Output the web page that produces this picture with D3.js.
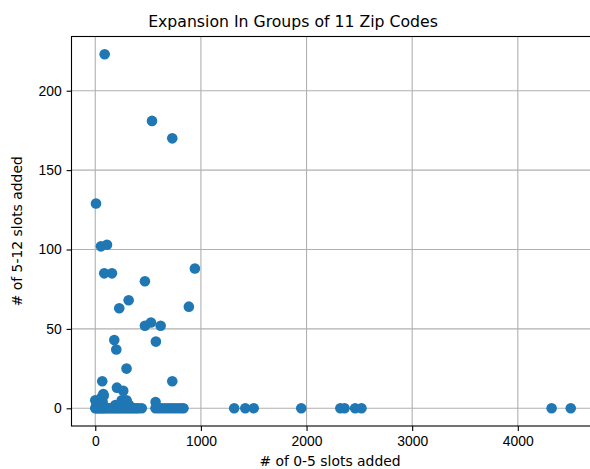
<!DOCTYPE html>
<html>
<head>
<meta charset="utf-8">
<script src="https://cdn.jsdelivr.net/npm/d3@7"></script>
<style>
  body { margin: 0; background: #fff; }
  svg { font-family: "DejaVu Sans", sans-serif; }
  .tick text { font-size: 13.9px; fill: #000; }
</style>
</head>
<body>
<svg width="590" height="469"></svg>
<script>
// slots added per group of zip codes
const slots05 = [
  89, 537, 729, 7, 54, 111, 943, 85, 158, 470, 316, 227, 886, 470, 527, 619,
  180, 574, 199, 296, 66, 729, 205, 265, 76, 571, 296,
  0, 10, 20, 40, 60, 70, 80, 250, 270, 300, 320, 290, 230, 190,
  0, 15, 30, 45, 60, 75, 90, 110, 130, 150, 170, 190, 210, 230, 250, 270,
  290, 310, 330, 350, 370, 390, 410, 440,
  570, 600, 630, 660, 690, 720, 750, 780, 810, 835,
  1315, 1420, 1500, 1950, 2320, 2360, 2460, 2520, 4320, 4501
];
const slots512 = [
  223, 181, 170, 129, 102, 103, 88, 85, 85, 80, 68, 63, 64, 52, 54, 52,
  43, 42, 37, 25, 17, 17, 13, 11, 9, 4, 5,
  5, 3, 2, 1, 7, 4, 8, 5, 3, 4, 2, 1, 2, 2,
  0, 0, 0, 0, 0, 0, 0, 0, 0, 0, 0, 0, 0, 0, 0, 0,
  0, 0, 0, 0, 0, 0, 0, 0,
  0, 0, 0, 0, 0, 0, 0, 0, 0, 0,
  0, 0, 0, 0, 0, 0, 0, 0, 0, 0
];
const xTicks = [0, 1000, 2000, 3000, 4000];
const yTicks = [0, 50, 100, 150, 200];

const points = slots05.map((v, i) => ({x: v, y: slots512[i]}));

const svg = d3.select('svg');
const m = {left: 71.5, right: 594.5, top: 36.5, bottom: 426};

const x = d3.scaleLinear().domain([-225, 4726]).range([m.left, m.right]);
const y = d3.scaleLinear().domain([-11.15, 234.15]).range([m.bottom, m.top]);

// grid
svg.append('g')
  .selectAll('line')
  .data(xTicks)
  .join('line')
  .attr('x1', d => x(d)).attr('x2', d => x(d))
  .attr('y1', m.top).attr('y2', m.bottom)
  .attr('stroke', '#b0b0b0').attr('stroke-width', 1.1);
svg.append('g')
  .selectAll('line')
  .data(yTicks)
  .join('line')
  .attr('x1', m.left).attr('x2', m.right)
  .attr('y1', d => y(d)).attr('y2', d => y(d))
  .attr('stroke', '#b0b0b0').attr('stroke-width', 1.1);

// points
svg.append('g')
  .selectAll('circle')
  .data(points)
  .join('circle')
  .attr('cx', d => x(d.x))
  .attr('cy', d => y(d.y))
  .attr('r', 5.3)
  .attr('fill', '#1f77b4');

// axes
const xAxis = svg.append('g')
  .attr('transform', `translate(0,${m.bottom})`)
  .call(d3.axisBottom(x).tickValues(xTicks).tickSize(4.9).tickPadding(4.9).tickFormat(d3.format('d')));
const yAxis = svg.append('g')
  .attr('transform', `translate(${m.left},0)`)
  .call(d3.axisLeft(y).tickValues(yTicks).tickSize(4.9).tickPadding(4.9).tickFormat(d3.format('d')));
[xAxis, yAxis].forEach(g => {
  g.select('.domain').remove();
  g.selectAll('.tick line').attr('stroke', '#000').attr('stroke-width', 1.1);
});

// frame
svg.append('rect')
  .attr('x', m.left).attr('y', m.top)
  .attr('width', m.right - m.left).attr('height', m.bottom - m.top)
  .attr('fill', 'none').attr('stroke', '#000').attr('stroke-width', 1.1);

// title and labels
svg.append('text')
  .attr('x', 293).attr('y', 26.5)
  .attr('text-anchor', 'middle')
  .attr('font-size', 15.7)
  .text('Expansion In Groups of 11 Zip Codes');
svg.append('text')
  .attr('x', 330).attr('y', 466)
  .attr('text-anchor', 'middle')
  .attr('font-size', 13.9)
  .text('# of 0-5 slots added');
svg.append('text')
  .attr('transform', `translate(22,${(m.top + m.bottom) / 2}) rotate(-90)`)
  .attr('text-anchor', 'middle')
  .attr('font-size', 13.9)
  .text('# of 5-12 slots added');
</script>
</body>
</html>
